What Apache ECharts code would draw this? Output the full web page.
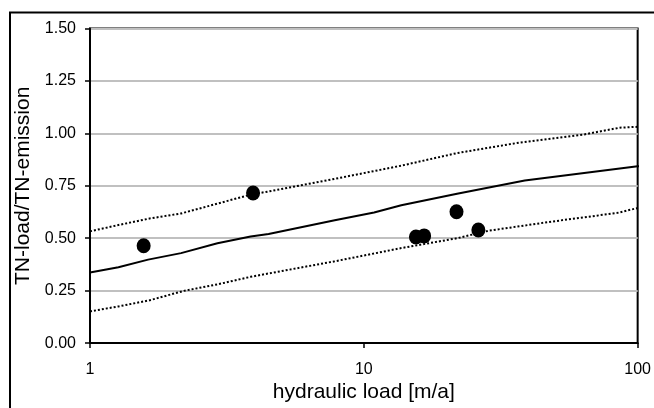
<!DOCTYPE html>
<html>
<head>
<meta charset="utf-8">
<script src="https://cdn.jsdelivr.net/npm/echarts@6/dist/echarts.min.js"></script>
<style>
html,body{margin:0;padding:0;background:#fff;}
#c{width:654px;height:408px;}
</style>
</head>
<body>
<div id="c"></div>
<script>
// Measured points (hydraulic load [m/a], TN-load/TN-emission)
const pointsX = [1.57, 3.94, 15.5, 16.6, 21.8, 26.2];
const pointsY = [0.464, 0.716, 0.506, 0.511, 0.626, 0.539];

// Model curve (solid)
const solidX = [1, 1.27, 1.63, 2.15, 2.92, 3.86, 4.49, 7.83, 10.9, 13.7, 21.9, 38.7, 100, 110];
const solidY = [0.337, 0.362, 0.398, 0.429, 0.476, 0.508, 0.520, 0.586, 0.623, 0.657, 0.712, 0.775, 0.843, 0.846];

// Upper bound (dotted)
const upperX = [1, 1.27, 1.65, 2.15, 2.92, 3.86, 4.49, 7.83, 13.7, 21.9, 37, 63.9, 86, 110];
const upperY = [0.533, 0.563, 0.594, 0.618, 0.665, 0.708, 0.723, 0.783, 0.846, 0.906, 0.956, 0.995, 1.027, 1.034];

// Lower bound (dotted)
const lowerX = [1, 1.27, 1.65, 2.2, 2.92, 3.86, 4.49, 7.83, 13.7, 21.9, 28.6, 48.4, 84.5, 110];
const lowerY = [0.151, 0.175, 0.204, 0.249, 0.280, 0.316, 0.332, 0.390, 0.453, 0.500, 0.536, 0.579, 0.621, 0.657];

const yTicks = [0, 0.25, 0.5, 0.75, 1.0, 1.25, 1.5];
const xTicks = [1, 10, 100];

const zip = (xs, ys) => xs.map((x, i) => [x, ys[i]]);
const FONT = '"Liberation Sans", Arial, sans-serif';

const chart = echarts.init(document.getElementById('c'), null, {renderer: 'canvas'});
chart.setOption({
  backgroundColor: '#ffffff',
  animation: false,
  graphic: [{
    type: 'rect',
    shape: {x: 10, y: 12.5, width: 700, height: 450},
    style: {fill: 'none', stroke: '#000', lineWidth: 2},
    z: 0
  }],
  grid: {
    left: 90, right: 12, top: 28.5, bottom: 62,
    show: true, borderColor: '#000', borderWidth: 2, backgroundColor: 'transparent'
  },
  xAxis: {
    type: 'log', logBase: 10, min: xTicks[0], max: xTicks[xTicks.length - 1],
    name: 'hydraulic load [m/a]', nameLocation: 'middle', nameGap: 35,
    nameTextStyle: {fontFamily: FONT, fontSize: 21, color: '#000'},
    axisLine: {show: true, lineStyle: {color: '#000', width: 2}},
    axisTick: {show: true, length: 5, lineStyle: {color: '#000', width: 1.5}},
    minorTick: {show: false},
    splitLine: {show: false},
    axisLabel: {fontFamily: FONT, fontSize: 16, color: '#000', margin: 18,
      formatter: v => String(Math.round(v))}
  },
  yAxis: {
    type: 'value', min: yTicks[0], max: yTicks[yTicks.length - 1], interval: 0.25,
    name: 'TN-load/TN-emission', nameLocation: 'middle', nameGap: 54,
    nameTextStyle: {fontFamily: FONT, fontSize: 21, color: '#000'},
    axisLine: {show: true, lineStyle: {color: '#000', width: 2}},
    axisTick: {show: true, length: 5, lineStyle: {color: '#000', width: 1.5}},
    splitLine: {show: true, lineStyle: {color: '#c0c0c0', width: 2}},
    axisLabel: {fontFamily: FONT, fontSize: 16, color: '#000', margin: 14,
      formatter: v => v.toFixed(2)}
  },
  series: [
    {type: 'line', data: zip(upperX, upperY), symbol: 'none', clip: false,
     lineStyle: {color: '#000', width: 2, type: [2, 2]}, z: 3},
    {type: 'line', data: zip(lowerX, lowerY), symbol: 'none', clip: false,
     lineStyle: {color: '#000', width: 2, type: [2, 2]}, z: 3},
    {type: 'line', data: zip(solidX, solidY), symbol: 'none', clip: false,
     lineStyle: {color: '#000', width: 2, type: 'solid'}, z: 3},
    {type: 'scatter', data: zip(pointsX, pointsY), symbol: 'circle', symbolSize: [14, 15],
     itemStyle: {color: '#000', opacity: 1}, z: 5}
  ]
});
</script>
</body>
</html>
